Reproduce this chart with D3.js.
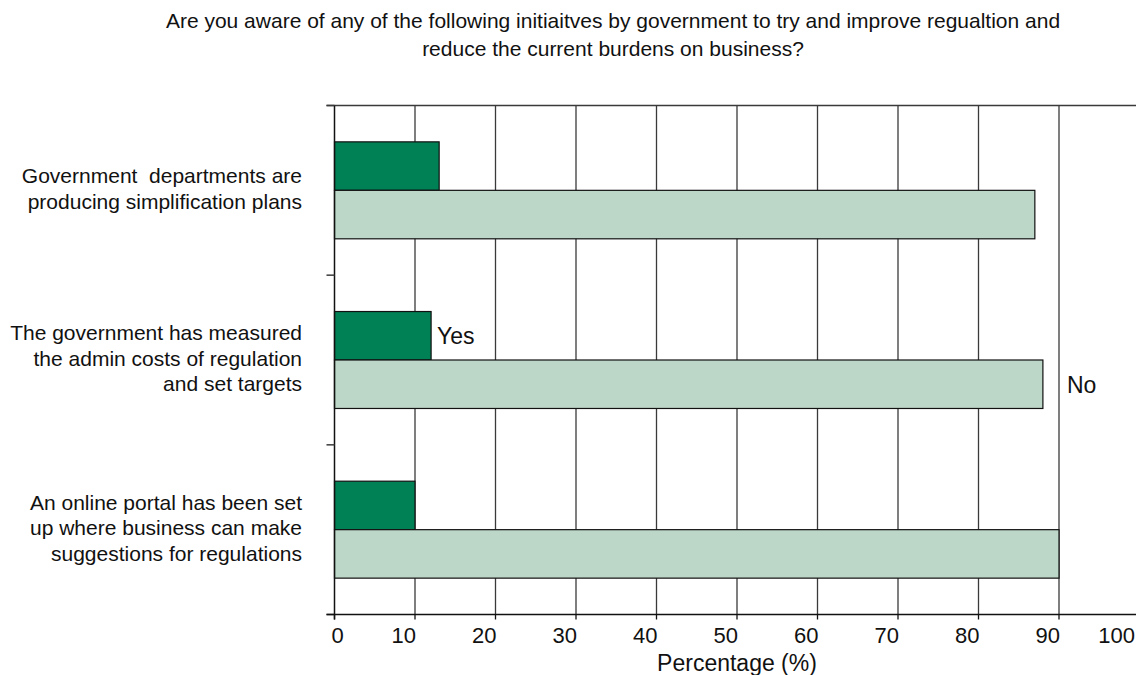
<!DOCTYPE html>
<html>
<head>
<meta charset="utf-8">
<script src="https://cdn.jsdelivr.net/npm/d3@7"></script>
<style>
  html, body { margin: 0; padding: 0; background: #fff; }
  svg { display: block; font-family: "Liberation Sans", Arial, sans-serif; }
  svg text { white-space: pre; }
</style>
</head>
<body>
<svg id="chart" width="1136" height="675"></svg>
<script>
// ---- data ----
const titleLines = [
  "Are you aware of any of the following initiaitves by government to try and improve regualtion and",
  "reduce the current burdens on business?"
];
const categories = [
  ["Government  departments are", "producing simplification plans"],
  ["The government has measured", "the admin costs of regulation", "and set targets"],
  ["An online portal has been set", "up where business can make", "suggestions for regulations"]
];
const seriesNames = ["Yes", "No"];
const yesValues = [13, 12, 10];
const noValues = [87, 88, 90];
const xTicks = [0, 10, 20, 30, 40, 50, 60, 70, 80, 90, 100];
const xTitle = "Percentage (%)";

// ---- layout ----
const W = 1136, H = 675;
const pL = 334.5, pR = 1139.5, pT = 105.5, pB = 614.5;
const darkGreen = "#008055", lightGreen = "#bcd7c8";

const svg = d3.select("#chart");

const x = d3.scaleLinear().domain([0, 100]).range([pL, pR]);
const y0 = d3.scaleBand().domain(d3.range(categories.length)).range([pT, pB]).padding(0);
const y1 = d3.scaleBand().domain(seriesNames).range([0, y0.bandwidth()]).paddingInner(0).paddingOuter(0.75);

// title
svg.append("g").selectAll("text").data(titleLines).join("text")
  .attr("x", 613).attr("y", (d, i) => 28 + i * 28)
  .attr("text-anchor", "middle").attr("font-size", 21).attr("fill", "#111")
  .text(d => d);

// gridlines
svg.append("g").selectAll("line").data(xTicks.filter(t => t > 0)).join("line")
  .attr("x1", d => x(d)).attr("x2", d => x(d))
  .attr("y1", pT).attr("y2", pB)
  .attr("stroke", "#3a3a3a").attr("stroke-width", 1.3);

// top frame line
svg.append("line").attr("x1", pL - 8).attr("x2", pR).attr("y1", pT).attr("y2", pT)
  .attr("stroke", "#3a3a3a").attr("stroke-width", 1.5);

// bars
const groups = svg.append("g").selectAll("g").data(categories.map((c, i) => i)).join("g")
  .attr("transform", i => `translate(0,${y0(i)})`);

groups.append("rect")
  .attr("x", x(0)).attr("y", y1("Yes"))
  .attr("width", i => x(yesValues[i]) - x(0)).attr("height", y1.bandwidth())
  .attr("fill", darkGreen).attr("stroke", "#111").attr("stroke-width", 1.2);
groups.append("rect")
  .attr("x", x(0)).attr("y", y1("No"))
  .attr("width", i => x(noValues[i]) - x(0)).attr("height", y1.bandwidth())
  .attr("fill", lightGreen).attr("stroke", "#111").attr("stroke-width", 1.2);

// category labels
groups.each(function(i) {
  const lines = categories[i];
  const lh = 25.5;
  const cy = y0.bandwidth() / 2 - 2;
  d3.select(this).append("g").selectAll("text").data(lines).join("text")
    .attr("x", 302)
    .attr("y", (d, k) => cy + (k - (lines.length - 1) / 2) * lh)
    .attr("dy", "0.36em")
    .attr("text-anchor", "end").attr("font-size", 21).attr("fill", "#111")
    .text(d => d);
});

// left axis
const yAxisG = svg.append("g");
yAxisG.append("line").attr("x1", pL).attr("x2", pL).attr("y1", pT).attr("y2", pB + 5)
  .attr("stroke", "#111").attr("stroke-width", 1.5);
const boundaries = d3.range(categories.length + 1).map(i => i < categories.length ? y0(i) : pB);
yAxisG.selectAll("line.tk").data(boundaries).join("line").attr("class", "tk")
  .attr("x1", pL - 8).attr("x2", pL).attr("y1", d => d).attr("y2", d => d)
  .attr("stroke", "#3a3a3a").attr("stroke-width", 1.5);

// bottom axis
const xAxisG = svg.append("g");
xAxisG.append("line").attr("x1", pL - 8).attr("x2", pR).attr("y1", pB).attr("y2", pB)
  .attr("stroke", "#111").attr("stroke-width", 1.5);
xAxisG.selectAll("line.tk").data(xTicks).join("line").attr("class", "tk")
  .attr("x1", d => x(d)).attr("x2", d => x(d)).attr("y1", pB).attr("y2", pB + 5)
  .attr("stroke", "#111").attr("stroke-width", 1.3);
xAxisG.selectAll("text").data(xTicks).join("text")
  .attr("x", d => d === 0 ? x(d) + 3 : Math.min(x(d) + 1, W - 1))
  .attr("y", 643)
  .attr("text-anchor", d => d === 0 ? "middle" : "end")
  .attr("font-size", 22).attr("fill", "#111")
  .text(d => d);

svg.append("text").attr("x", (pL + pR) / 2).attr("y", 671)
  .attr("text-anchor", "middle").attr("font-size", 23).attr("fill", "#111")
  .text(xTitle);

// series labels (on the middle group)
const mid = 1;
svg.append("text")
  .attr("x", x(yesValues[mid]) + 6)
  .attr("y", y0(mid) + y1("Yes") + y1.bandwidth() / 2)
  .attr("dy", "0.36em").attr("font-size", 23).attr("fill", "#111")
  .text(seriesNames[0]);
svg.append("text")
  .attr("x", x(noValues[mid]) + 24)
  .attr("y", y0(mid) + y1("No") + y1.bandwidth() / 2)
  .attr("dy", "0.36em").attr("font-size", 23).attr("fill", "#111")
  .text(seriesNames[1]);
</script>
</body>
</html>
